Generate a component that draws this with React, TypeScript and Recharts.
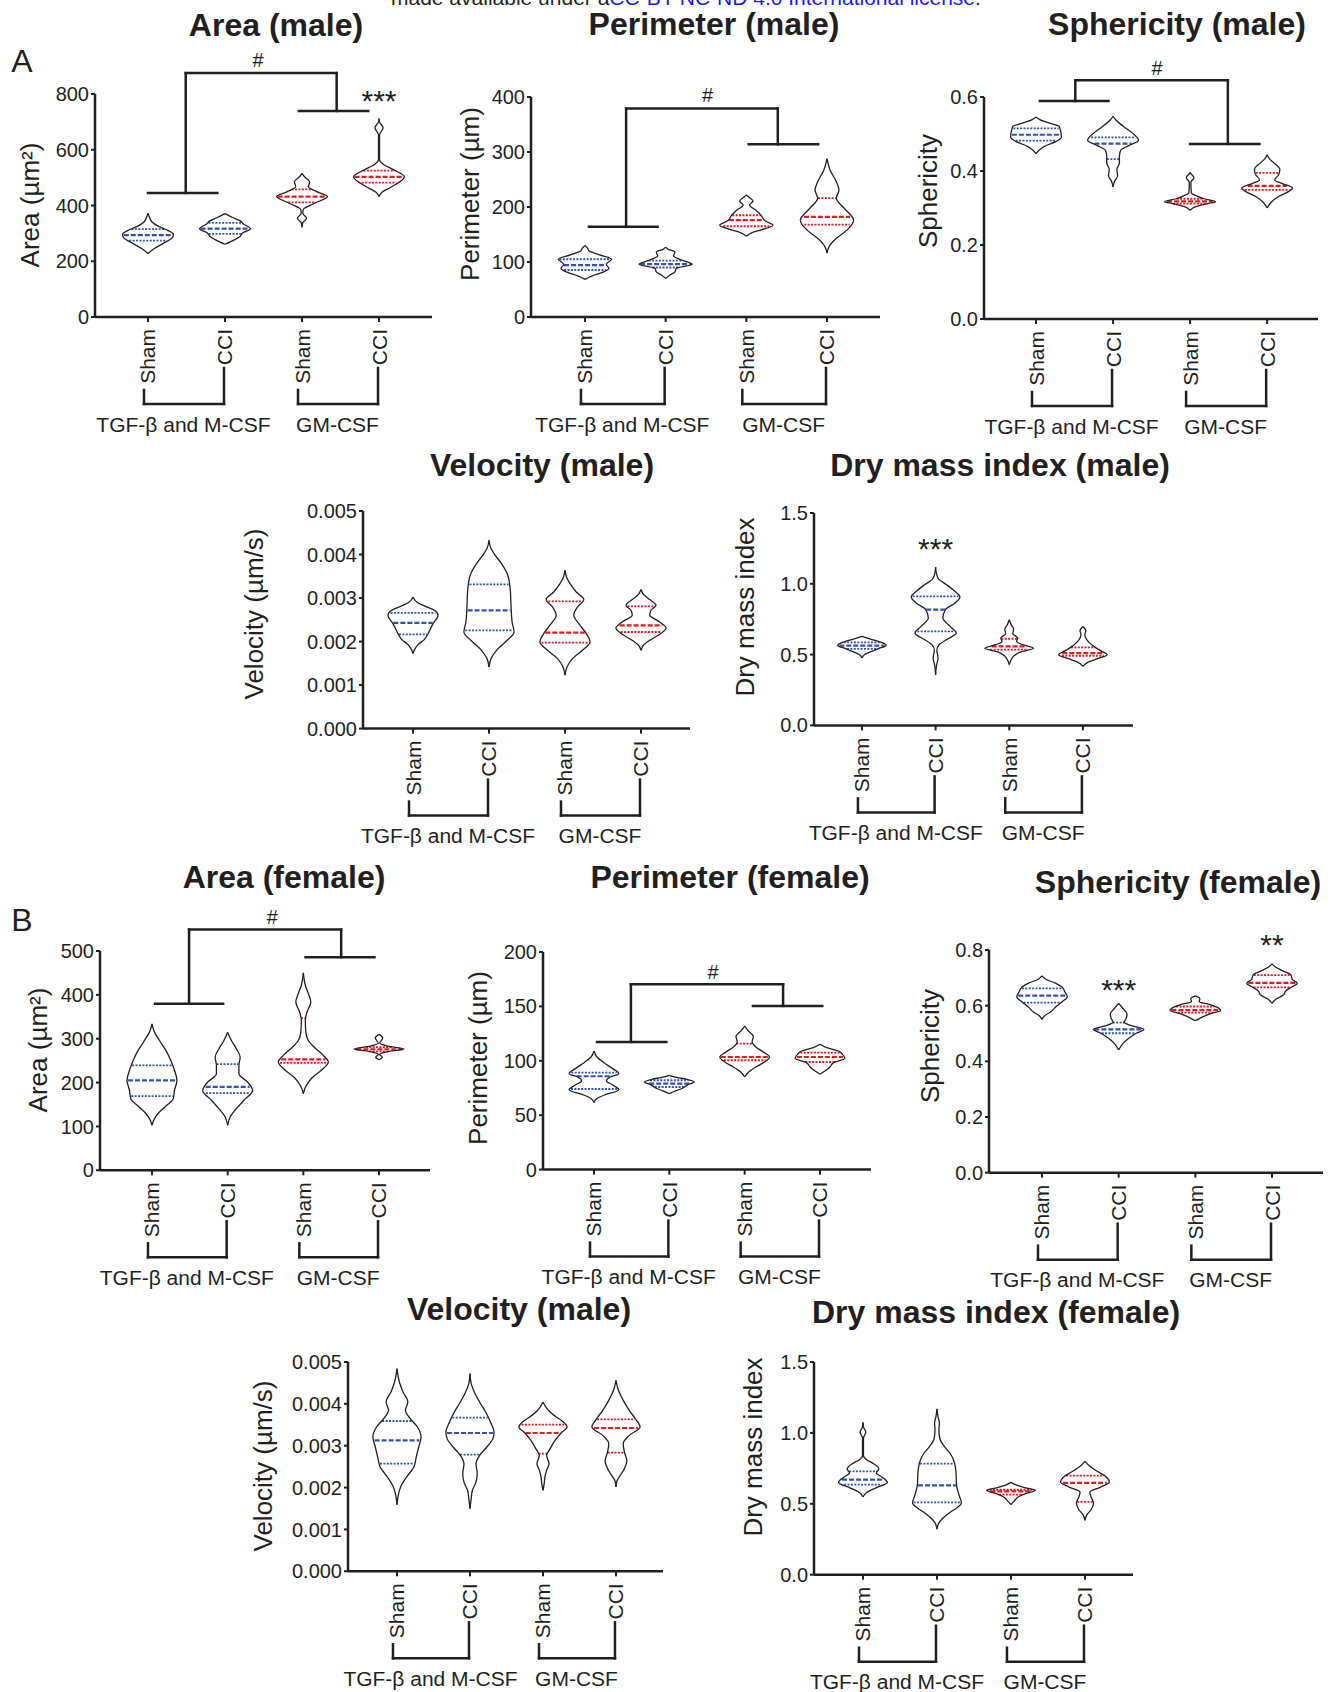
import React from 'react';
import { ComposedChart, XAxis, YAxis, Scatter, ReferenceLine, ReferenceDot } from 'recharts';

type Profile = [number, number][];
type Seg = [number, number, number, number];
type Mark = { x: number; y: number; text: string };

// ---------- shared categories ----------
const CATEGORIES = ['Sham', 'CCI', 'Sham', 'CCI'];
const GROUPS = ['TGF-β and M-CSF', 'GM-CSF'];
const CAT_X = [1, 2, 3, 4];
const VIOLIN_COLORS = ['blue', 'blue', 'red', 'red'];

// ---------- Area (male) ----------
const areaMaleTicks = [0, 200, 400, 600, 800];
const areaMaleProfiles: Profile[] = [
  [[228, 0], [246, 0.25], [264, 0.6], [286, 0.97], [297, 1], [312, 0.75], [326, 0.4], [342, 0.15], [360, 0.05], [372, 0]],
  [[261, 0], [276, 0.35], [290, 0.6], [302, 0.7], [317, 1], [334, 0.72], [345, 0.6], [357, 0.3], [371, 0]],
  [[322, 0], [338, 0.03], [354, 0.18], [372, 0.03], [386, 0.05], [408, 0.5], [432, 1], [449, 0.6], [467, 0.25], [485, 0.3], [503, 0.1], [515, 0]],
  [[432, 0], [446, 0.1], [467, 0.5], [503, 1], [527, 0.6], [549, 0.15], [563, 0.02], [653, 0.02], [679, 0.16], [700, 0.02], [712, 0]],
];
const areaMaleQuartiles = [[274, 294, 315], [298, 317, 338], [411, 432, 458], [482, 503, 525]];
const areaMaleBrackets: Seg[] = [
  [1.49, 875, 3.45, 875], [1.49, 875, 1.49, 445], [1.0, 445, 1.9, 445], [3.45, 875, 3.45, 739], [2.96, 739, 3.86, 739],
];
const areaMaleMarks: Mark[] = [{ x: 2.43, y: 922, text: '#' }, { x: 4, y: 789, text: '***' }];

// ---------- Perimeter (male) ----------
const perimeterMaleTicks = [0, 100, 200, 300, 400];
const perimeterMaleProfiles: Profile[] = [
  [[68.5, 0], [74.5, 0.25], [82, 0.7], [88, 0.9], [96, 0.8], [105, 1], [113, 0.55], [120.5, 0.15], [125, 0.1], [130, 0]],
  [[70, 0], [76, 0.15], [82, 0.35], [88.5, 0.4], [96, 1], [103.6, 0.6], [111, 0.3], [118, 0.35], [123, 0.1], [127, 0]],
  [[147, 0], [153, 0.2], [159, 0.6], [167, 1], [175, 0.7], [185, 0.55], [194.5, 0.35], [203.6, 0.12], [211, 0.25], [217.6, 0.1], [222, 0]],
  [[116, 0], [128, 0.08], [143, 0.35], [158, 0.75], [176, 1], [197.6, 0.65], [215.8, 0.35], [231, 0.45], [246, 0.35], [267, 0.12], [288, 0]],
];
const perimeterMaleQuartiles = [[85.5, 94.5, 105], [90, 96, 102.4], [165, 176, 185], [168, 182, 216]];
const perimeterMaleBrackets: Seg[] = [
  [1.51, 379, 3.39, 379], [1.51, 379, 1.51, 164], [1.05, 164, 1.9, 164], [3.39, 379, 3.39, 314], [3.03, 314, 3.89, 314],
];
const perimeterMaleMarks: Mark[] = [{ x: 2.52, y: 404, text: '#' }];

// ---------- Sphericity (male) ----------
const sphericityMaleTicks = [0, 0.2, 0.4, 0.6];
const sphericityMaleProfiles: Profile[] = [
  [[0.447, 0], [0.458, 0.15], [0.469, 0.4], [0.48, 0.8], [0.492, 1], [0.507, 0.97], [0.521, 0.9], [0.53, 0.5], [0.539, 0.15], [0.546, 0]],
  [[0.357, 0], [0.372, 0.06], [0.387, 0.18], [0.404, 0.15], [0.422, 0.25], [0.44, 0.25], [0.456, 0.3], [0.468, 0.6], [0.483, 1], [0.503, 0.75], [0.521, 0.4], [0.537, 0.12], [0.548, 0]],
  [[0.294, 0], [0.303, 0.2], [0.312, 0.7], [0.317, 1], [0.325, 0.55], [0.333, 0.25], [0.341, 0.05], [0.369, 0.03], [0.382, 0.15], [0.393, 0.03], [0.396, 0]],
  [[0.3, 0], [0.315, 0.15], [0.331, 0.45], [0.345, 0.85], [0.354, 1], [0.366, 0.6], [0.376, 0.3], [0.39, 0.45], [0.404, 0.5], [0.42, 0.3], [0.432, 0.1], [0.444, 0]],
];
const sphericityMaleQuartiles = [[0.482, 0.498, 0.515], [0.432, 0.474, 0.491], [0.312, 0.318, 0.325], [0.349, 0.36, 0.395]];
const sphericityMaleBrackets: Seg[] = [
  [1.51, 0.645, 3.49, 0.645], [1.51, 0.645, 1.51, 0.589], [1.05, 0.589, 1.94, 0.589], [3.49, 0.645, 3.49, 0.473], [3.0, 0.473, 3.9, 0.473],
];
const sphericityMaleMarks: Mark[] = [{ x: 2.57, y: 0.679, text: '#' }];

// ---------- Velocity (male) ----------
const velocityMaleTicks = [0, 0.001, 0.002, 0.003, 0.004, 0.005];
const velocityMaleProfiles: Profile[] = [
  [[0.001723, 0], [0.001815, 0.06], [0.00193, 0.2], [0.002045, 0.45], [0.002183, 0.6], [0.002413, 0.8], [0.002603, 1], [0.002718, 0.85], [0.002818, 0.45], [0.002909, 0.15], [0.003024, 0]],
  [[0.001416, 0], [0.001608, 0.08], [0.001799, 0.3], [0.00199, 0.65], [0.00222, 1], [0.00245, 0.92], [0.002795, 0.88], [0.003178, 0.85], [0.003523, 0.75], [0.003791, 0.5], [0.003982, 0.25], [0.004136, 0.08], [0.004327, 0]],
  [[0.001225, 0], [0.001416, 0.08], [0.001608, 0.3], [0.001799, 0.7], [0.00199, 1], [0.002183, 0.85], [0.002413, 0.55], [0.002603, 0.35], [0.002795, 0.5], [0.002964, 0.75], [0.003139, 0.45], [0.003331, 0.2], [0.003484, 0.06], [0.003637, 0]],
  [[0.001799, 0], [0.001914, 0.1], [0.002029, 0.35], [0.002167, 0.75], [0.002312, 1], [0.00245, 0.75], [0.002603, 0.35], [0.002718, 0.4], [0.002833, 0.6], [0.002964, 0.35], [0.003086, 0.1], [0.003194, 0]],
];
const velocityMaleQuartiles = [[0.002167, 0.002427, 0.002657], [0.002259, 0.002718, 0.003316], [0.001976, 0.002206, 0.002925], [0.00222, 0.002374, 0.00281]];

// ---------- Dry mass index (male) ----------
const dryMassMaleTicks = [0, 0.5, 1.0, 1.5];
const dryMassMaleProfiles: Profile[] = [
  [[0.476, 0], [0.499, 0.1], [0.523, 0.4], [0.544, 0.7], [0.565, 1], [0.589, 0.75], [0.61, 0.35], [0.629, 0]],
  [[0.358, 0], [0.417, 0.03], [0.476, 0.1], [0.53, 0.05], [0.57, 0.15], [0.61, 0.5], [0.652, 0.85], [0.699, 0.6], [0.758, 0.3], [0.817, 0.4], [0.864, 0.8], [0.907, 1], [0.946, 0.8], [0.994, 0.45], [1.034, 0.12], [1.076, 0.03], [1.119, 0]],
  [[0.429, 0], [0.464, 0.08], [0.492, 0.2], [0.518, 0.45], [0.544, 1], [0.57, 0.55], [0.593, 0.3], [0.617, 0.35], [0.648, 0.15], [0.681, 0.18], [0.711, 0.08], [0.746, 0]],
  [[0.417, 0], [0.445, 0.2], [0.471, 0.6], [0.499, 1], [0.53, 0.7], [0.558, 0.45], [0.586, 0.25], [0.617, 0.12], [0.641, 0.08], [0.669, 0.12], [0.699, 0]],
];
const dryMassMaleQuartiles = [[0.54, 0.563, 0.586], [0.664, 0.817, 0.911], [0.535, 0.558, 0.612], [0.492, 0.511, 0.551]];
const dryMassMaleMarks: Mark[] = [{ x: 2, y: 1.276, text: '***' }];

// ---------- Area (female) ----------
const areaFemaleTicks = [0, 100, 200, 300, 400, 500];
const areaFemaleProfiles: Profile[] = [
  [[102.6, 0], [117.8, 0.1], [133, 0.3], [146, 0.55], [163, 0.85], [182, 0.9], [205, 1], [228, 0.9], [251, 0.75], [274, 0.55], [296, 0.3], [315, 0.1], [334, 0]],
  [[102.6, 0], [121.5, 0.1], [140.6, 0.35], [159.6, 0.65], [182, 1], [201, 0.8], [220, 0.45], [239, 0.45], [258, 0.5], [277, 0.35], [296, 0.15], [315, 0]],
  [[175, 0], [191.5, 0.1], [211, 0.35], [232, 0.8], [247, 1], [262, 0.8], [280, 0.45], [296, 0.2], [315, 0.1], [342, 0.08], [361, 0.15], [384, 0.3], [403, 0.2], [422, 0.08], [450, 0]],
  [[252, 0], [258, 0.13], [264, 0.02], [270, 0.3], [276.5, 1], [283, 0.35], [290, 0.03], [301.6, 0.15], [310, 0]],
];
const areaFemaleQuartiles = [[169, 205, 239], [176, 190, 242], [245, 253, 347], [271, 276, 281]];
const areaFemaleBrackets: Seg[] = [
  [1.49, 549, 3.5, 549], [1.49, 549, 1.49, 380], [1.04, 380, 1.94, 380], [3.5, 549, 3.5, 486], [3.03, 486, 3.94, 486],
];
const areaFemaleMarks: Mark[] = [{ x: 2.59, y: 577, text: '#' }];

// ---------- Perimeter (female) ----------
const perimeterFemaleTicks = [0, 50, 100, 150, 200];
const perimeterFemaleProfiles: Profile[] = [
  [[61.6, 0], [65.3, 0.12], [68.9, 0.45], [73.5, 1], [77.8, 0.75], [81.5, 0.5], [85.1, 0.65], [88.2, 1], [92.8, 0.75], [98.3, 0.4], [103.5, 0.12], [109, 0]],
  [[69.8, 0], [72.3, 0.25], [75, 0.55], [78.1, 0.75], [80.5, 1], [83, 0.7], [84.8, 0.3], [86.7, 0]],
  [[85.1, 0], [89.4, 0.15], [94.3, 0.45], [98.9, 0.8], [103.5, 1], [108.1, 0.75], [112.7, 0.45], [117.3, 0.3], [122.5, 0.35], [127.4, 0.15], [132, 0]],
  [[87.6, 0], [90.6, 0.2], [94.3, 0.4], [98.3, 0.55], [102.3, 1], [106, 0.9], [109, 0.75], [111.8, 0.3], [115.2, 0]],
];
const perimeterFemaleQuartiles = [[74.1, 85.8, 89.1], [75.9, 79, 82.1], [100.5, 103.5, 115.8], [98.9, 103.5, 107.5]];
const perimeterFemaleBrackets: Seg[] = [
  [1.49, 170.3, 3.51, 170.3], [1.49, 170.3, 1.49, 117.3], [1.04, 117.3, 1.96, 117.3], [3.51, 170.3, 3.51, 150.4], [3.11, 150.4, 4.03, 150.4],
];
const perimeterFemaleMarks: Mark[] = [{ x: 2.58, y: 181.6, text: '#' }];

// ---------- Sphericity (female) ----------
const sphericityFemaleTicks = [0, 0.2, 0.4, 0.6, 0.8];
const sphericityFemaleProfiles: Profile[] = [
  [[0.551, 0], [0.565, 0.12], [0.578, 0.35], [0.596, 0.55], [0.614, 0.8], [0.632, 1], [0.65, 0.9], [0.666, 0.8], [0.68, 0.55], [0.695, 0.15], [0.707, 0]],
  [[0.441, 0], [0.462, 0.15], [0.483, 0.4], [0.501, 0.7], [0.515, 1], [0.528, 0.5], [0.54, 0.22], [0.555, 0.3], [0.57, 0.33], [0.587, 0.2], [0.608, 0]],
  [[0.546, 0], [0.558, 0.25], [0.57, 0.55], [0.583, 1], [0.595, 0.85], [0.605, 0.55], [0.614, 0.15], [0.625, 0.18], [0.635, 0]],
  [[0.608, 0], [0.623, 0.15], [0.638, 0.45], [0.654, 0.55], [0.668, 0.8], [0.68, 1], [0.695, 0.8], [0.71, 0.75], [0.724, 0.45], [0.738, 0.15], [0.75, 0]],
];
const sphericityFemaleQuartiles = [[0.611, 0.636, 0.662], [0.501, 0.515, 0.539], [0.575, 0.584, 0.597], [0.666, 0.682, 0.71]];
const sphericityFemaleMarks: Mark[] = [{ x: 2, y: 0.671, text: '***' }, { x: 4, y: 0.83, text: '**' }];

// ---------- Velocity (second, panel B) ----------
const velocityBTicks = [0, 0.001, 0.002, 0.003, 0.004, 0.005];
const velocityBProfiles: Profile[] = [
  [[0.001592, 0], [0.001815, 0.05], [0.002014, 0.15], [0.002253, 0.4], [0.002491, 0.7], [0.00273, 0.8], [0.002969, 0.9], [0.003208, 1], [0.003447, 0.85], [0.003647, 0.55], [0.003846, 0.35], [0.004044, 0.45], [0.004283, 0.25], [0.004522, 0.1], [0.004841, 0]],
  [[0.001498, 0], [0.001737, 0.05], [0.001935, 0.1], [0.002133, 0.25], [0.002334, 0.3], [0.002572, 0.25], [0.002771, 0.4], [0.002969, 0.7], [0.00317, 0.95], [0.003327, 1], [0.003566, 0.85], [0.003805, 0.65], [0.004044, 0.4], [0.004283, 0.18], [0.004483, 0.05], [0.004722, 0]],
  [[0.001935, 0], [0.002094, 0.05], [0.002253, 0.08], [0.002412, 0.15], [0.002572, 0.25], [0.002771, 0.15], [0.00293, 0.3], [0.003129, 0.5], [0.003304, 0.75], [0.003447, 1], [0.003566, 0.85], [0.003686, 0.55], [0.003829, 0.25], [0.003941, 0.1], [0.004044, 0]],
  [[0.002014, 0], [0.002174, 0.05], [0.002293, 0.18], [0.002453, 0.35], [0.002635, 0.45], [0.00285, 0.35], [0.00305, 0.3], [0.003248, 0.55], [0.003447, 1], [0.003647, 0.8], [0.003846, 0.55], [0.004084, 0.3], [0.004323, 0.1], [0.004562, 0]],
];
const velocityBQuartiles = [[0.002572, 0.003129, 0.00359], [0.002787, 0.003304, 0.003671], [0.002811, 0.003304, 0.003504], [0.002835, 0.003423, 0.003631]];

// ---------- Dry mass index (female) ----------
const dryMassFemaleTicks = [0, 0.5, 1.0, 1.5];
const dryMassFemaleProfiles: Profile[] = [
  [[0.548, 0], [0.58, 0.15], [0.614, 0.55], [0.651, 1], [0.686, 0.8], [0.717, 0.55], [0.745, 0.65], [0.781, 0.45], [0.811, 0.15], [0.839, 0.02], [0.964, 0.02], [1.004, 0.12], [1.042, 0.02], [1.074, 0]],
  [[0.322, 0], [0.365, 0.08], [0.4, 0.25], [0.435, 0.5], [0.47, 0.8], [0.506, 1], [0.564, 0.9], [0.635, 0.8], [0.717, 0.78], [0.788, 0.72], [0.853, 0.55], [0.905, 0.3], [0.957, 0.12], [1.023, 0.08], [1.07, 0.1], [1.116, 0.04], [1.169, 0]],
  [[0.494, 0], [0.517, 0.12], [0.548, 0.3], [0.571, 0.6], [0.595, 1], [0.611, 0.65], [0.63, 0.25], [0.651, 0]],
  [[0.383, 0], [0.423, 0.08], [0.458, 0.25], [0.506, 0.35], [0.548, 0.25], [0.583, 0.2], [0.618, 0.65], [0.654, 1], [0.693, 0.85], [0.729, 0.5], [0.764, 0.2], [0.799, 0]],
];
const dryMassFemaleQuartiles = [[0.635, 0.67, 0.729], [0.51, 0.63, 0.783], [0.564, 0.588, 0.599], [0.513, 0.647, 0.698]];

// ---------- styling / layout ----------
const FONT = '"Liberation Sans", Arial, Helvetica, sans-serif';
const INK = '#231f20';
const COLOR: Record<string, string> = { blue: '#3152b3', red: '#f2141c' };
const HALF = 0.33;
const YW = 75;
const TOP = 80;
const XH = 130;
const RIGHT = 6;
const TICK_SIZE = 5;
const TICK_MARGIN = 2;

type Box = { left: number; right: number; top: number; bottom: number };
type PanelSpec = {
  key: string;
  title: string;
  yLabel: string;
  profiles: Profile[];
  quartiles: number[][];
  yTicks: number[];
  decimals: number;
  box: Box;
  xDomain: [number, number];
  titleAt: [number, number];
  yLabelAt: [number, number];
  brackets?: Seg[];
  marks?: Mark[];
};

const PANELS: PanelSpec[] = [
  { key: 'am', title: 'Area (male)', yLabel: 'Area (µm²)', profiles: areaMaleProfiles, quartiles: areaMaleQuartiles, yTicks: areaMaleTicks, decimals: 0,
    box: { left: 95, right: 432, top: 94, bottom: 317 }, xDomain: [0.312, 4.688], titleAt: [276, 28], yLabelAt: [30, 205], brackets: areaMaleBrackets, marks: areaMaleMarks },
  { key: 'pm', title: 'Perimeter (male)', yLabel: 'Perimeter (µm)', profiles: perimeterMaleProfiles, quartiles: perimeterMaleQuartiles, yTicks: perimeterMaleTicks, decimals: 0,
    box: { left: 531, right: 880, top: 97, bottom: 317 }, xDomain: [0.331, 4.657], titleAt: [714, 27], yLabelAt: [470, 194], brackets: perimeterMaleBrackets, marks: perimeterMaleMarks },
  { key: 'sm', title: 'Sphericity (male)', yLabel: 'Sphericity', profiles: sphericityMaleProfiles, quartiles: sphericityMaleQuartiles, yTicks: sphericityMaleTicks, decimals: 1,
    box: { left: 984, right: 1318, top: 97.3, bottom: 319.3 }, xDomain: [0.325, 4.66], titleAt: [1177, 27], yLabelAt: [928, 191], brackets: sphericityMaleBrackets, marks: sphericityMaleMarks },
  { key: 'vm', title: 'Velocity (male)', yLabel: 'Velocity (µm/s)', profiles: velocityMaleProfiles, quartiles: velocityMaleQuartiles, yTicks: velocityMaleTicks, decimals: 3,
    box: { left: 363, right: 690, top: 510.7, bottom: 728.3 }, xDomain: [0.342, 4.645], titleAt: [542, 468], yLabelAt: [254, 614] },
  { key: 'dm', title: 'Dry mass index (male)', yLabel: 'Dry mass index', profiles: dryMassMaleProfiles, quartiles: dryMassMaleQuartiles, yTicks: dryMassMaleTicks, decimals: 1,
    box: { left: 814, right: 1133, top: 513.3, bottom: 725.7 }, xDomain: [0.349, 4.68], titleAt: [1000, 468], yLabelAt: [745, 607], marks: dryMassMaleMarks },
  { key: 'af', title: 'Area (female)', yLabel: 'Area (µm²)', profiles: areaFemaleProfiles, quartiles: areaFemaleQuartiles, yTicks: areaFemaleTicks, decimals: 0,
    box: { left: 100, right: 430, top: 950.7, bottom: 1170 }, xDomain: [0.313, 4.674], titleAt: [284, 880], yLabelAt: [38, 1050], brackets: areaFemaleBrackets, marks: areaFemaleMarks },
  { key: 'pf', title: 'Perimeter (female)', yLabel: 'Perimeter (µm)', profiles: perimeterFemaleProfiles, quartiles: perimeterFemaleQuartiles, yTicks: perimeterFemaleTicks, decimals: 0,
    box: { left: 543, right: 871, top: 951.7, bottom: 1169.3 }, xDomain: [0.323, 4.677], titleAt: [730, 880], yLabelAt: [478, 1058], brackets: perimeterFemaleBrackets, marks: perimeterFemaleMarks },
  { key: 'sf', title: 'Sphericity (female)', yLabel: 'Sphericity', profiles: sphericityFemaleProfiles, quartiles: sphericityFemaleQuartiles, yTicks: sphericityFemaleTicks, decimals: 1,
    box: { left: 989, right: 1323, top: 950, bottom: 1172.7 }, xDomain: [0.309, 4.665], titleAt: [1178, 885], yLabelAt: [930, 1046], marks: sphericityFemaleMarks },
  { key: 'vf', title: 'Velocity (male)', yLabel: 'Velocity (µm/s)', profiles: velocityBProfiles, quartiles: velocityBQuartiles, yTicks: velocityBTicks, decimals: 3,
    box: { left: 348, right: 663, top: 1361.7, bottom: 1571 }, xDomain: [0.329, 4.644], titleAt: [519, 1312], yLabelAt: [263, 1466] },
  { key: 'df', title: 'Dry mass index (female)', yLabel: 'Dry mass index', profiles: dryMassFemaleProfiles, quartiles: dryMassFemaleQuartiles, yTicks: dryMassFemaleTicks, decimals: 1,
    box: { left: 814, right: 1133, top: 1362.3, bottom: 1575 }, xDomain: [0.338, 4.649], titleAt: [996, 1315], yLabelAt: [753, 1447] },
];

function halfAt(p: Profile, v: number): number {
  for (let i = 0; i < p.length - 1; i++) {
    const [v0, w0] = p[i];
    const [v1, w1] = p[i + 1];
    if (v >= v0 && v <= v1) return v1 === v0 ? Math.max(w0, w1) : w0 + ((w1 - w0) * (v - v0)) / (v1 - v0);
  }
  return 0;
}

const renderNothing = () => null;

function makeCatTick(spacing: number) {
  return (props: any) => {
    const { x, y, payload } = props;
    const i = Math.round(payload.value) - 1;
    const base = y - TICK_SIZE - TICK_MARGIN;
    const isSham = i % 2 === 0;
    const textTop = base + 12;
    const lineX = x + (isSham ? -4 : -1);
    const lineTop = base + (isSham ? 73 : 51);
    const lineBottom = base + 87;
    return (
      <g>
        <text x={x} y={textTop} transform={`rotate(-90 ${x} ${textTop})`} textAnchor="end" dominantBaseline="central"
          fontSize={21} fill={INK} fontFamily={FONT}>{CATEGORIES[i]}</text>
        <line x1={lineX} y1={lineTop} x2={lineX} y2={lineBottom} stroke={INK} strokeWidth={2.5} strokeLinecap="square" />
        {isSham && (
          <g>
            <line x1={lineX} y1={lineBottom} x2={x + spacing - 1} y2={lineBottom} stroke={INK} strokeWidth={2.5} strokeLinecap="square" />
            <text x={x + spacing / 2 - 3} y={base + 107} textAnchor="middle" dominantBaseline="central" fontSize={21} fill={INK} fontFamily={FONT}>
              {GROUPS[i / 2]}
            </text>
          </g>
        )}
      </g>
    );
  };
}

function markShape(text: string) {
  const isHash = text === '#';
  return (p: any) => (
    <text x={p.cx} y={p.cy} dy={isHash ? '0.35em' : '0.46em'} textAnchor="middle" fontSize={isHash ? 20 : 30} fill={INK} fontFamily={FONT}>
      {text}
    </text>
  );
}

function Panel({ spec }: { spec: PanelSpec }) {
  const { box, xDomain } = spec;
  const plotW = box.right - box.left;
  const plotH = box.bottom - box.top;
  const spacing = plotW / (xDomain[1] - xDomain[0]);
  const width = YW + plotW + RIGHT;
  const height = TOP + plotH + XH;
  const yMax = spec.yTicks[spec.yTicks.length - 1];

  const violins = spec.profiles.flatMap((prof, i) => {
    const c = CAT_X[i];
    const right = prof.map(([v, w]) => ({ x: c + w * HALF, y: v }));
    const left = prof.map(([v, w]) => ({ x: c - w * HALF, y: v }));
    return [right, left].map((pts, k) => (
      <Scatter key={`${spec.key}-v${i}-${k}`} data={pts} line={{ stroke: INK, strokeWidth: 1.3 }} lineType="joint"
        lineJointType="monotoneY" shape={renderNothing} isAnimationActive={false} legendType="none" />
    ));
  });

  const quartileLines = spec.quartiles.flatMap((qs, i) => {
    const c = CAT_X[i];
    const color = COLOR[VIOLIN_COLORS[i]];
    return qs.map((q, j) => {
      const hw = halfAt(spec.profiles[i], q) * HALF * 0.96;
      return (
        <ReferenceLine key={`${spec.key}-q${i}-${j}`} segment={[{ x: c - hw, y: q }, { x: c + hw, y: q }]} stroke={color}
          strokeWidth={j === 1 ? 2.2 : 1.8} strokeDasharray={j === 1 ? '5 2' : '2 1.4'} ifOverflow="visible" />
      );
    });
  });

  const brackets = (spec.brackets || []).map((s, k) => (
    <ReferenceLine key={`${spec.key}-b${k}`} segment={[{ x: s[0], y: s[1] }, { x: s[2], y: s[3] }]} stroke={INK} strokeWidth={2.5}
      strokeLinecap="square" ifOverflow="visible" />
  ));

  const marks = (spec.marks || []).map((m, k) => (
    <ReferenceDot key={`${spec.key}-m${k}`} x={m.x} y={m.y} r={1} ifOverflow="visible" shape={markShape(m.text)} />
  ));

  return (
    <div style={{ position: 'absolute', left: box.left - YW, top: box.top - TOP }}>
      <ComposedChart width={width} height={height} margin={{ top: TOP, right: RIGHT, bottom: 0, left: 0 }}>
        <XAxis type="number" dataKey="x" domain={xDomain} ticks={CAT_X} allowDataOverflow interval={0} height={XH}
          tickSize={TICK_SIZE} tickMargin={TICK_MARGIN} axisLine={{ stroke: INK, strokeWidth: 2.5 }}
          tickLine={{ stroke: INK, strokeWidth: 2 }} tick={makeCatTick(spacing)} />
        <YAxis type="number" dataKey="y" domain={[0, yMax]} ticks={spec.yTicks} allowDataOverflow interval={0} width={YW}
          tickSize={4} tickMargin={2} axisLine={{ stroke: INK, strokeWidth: 2.5 }} tickLine={{ stroke: INK, strokeWidth: 2 }}
          tick={{ fontSize: 20, fill: INK, fontFamily: FONT }} tickFormatter={(v: number) => v.toFixed(spec.decimals)} />
        {violins}
        {quartileLines}
        {brackets}
        {marks}
      </ComposedChart>
    </div>
  );
}

const abs = (x: number, y: number): React.CSSProperties => ({
  position: 'absolute', left: x, top: y, whiteSpace: 'nowrap', lineHeight: 1,
});

export default function App() {
  return (
    <div style={{ position: 'absolute', left: 0, top: 0, width: 1331, height: 1692, overflow: 'hidden', background: '#fff', fontFamily: FONT, color: INK }}>
      <div style={{ ...abs(391, -13.5), fontSize: 21 }}>
        made available under a<span style={{ color: '#1a1aff' }}>CC-BY-NC-ND 4.0 International license</span>.
      </div>
      {PANELS.map((p) => (
        <Panel key={p.key} spec={p} />
      ))}
      {PANELS.map((p) => (
        <div key={`t-${p.key}`} style={{ ...abs(p.titleAt[0], p.titleAt[1] - 3), fontSize: 32, fontWeight: 700, transform: 'translate(-50%, -50%)' }}>
          {p.title}
        </div>
      ))}
      {PANELS.map((p) => (
        <div key={`y-${p.key}`} style={{ ...abs(p.yLabelAt[0], p.yLabelAt[1]), fontSize: 26, transform: 'translate(-50%, -50%) rotate(-90deg)' }}>
          {p.yLabel}
        </div>
      ))}
      <div style={{ ...abs(22, 61), fontSize: 32, transform: 'translate(-50%, -50%)' }}>A</div>
      <div style={{ ...abs(22, 920), fontSize: 32, transform: 'translate(-50%, -50%)' }}>B</div>
    </div>
  );
}
